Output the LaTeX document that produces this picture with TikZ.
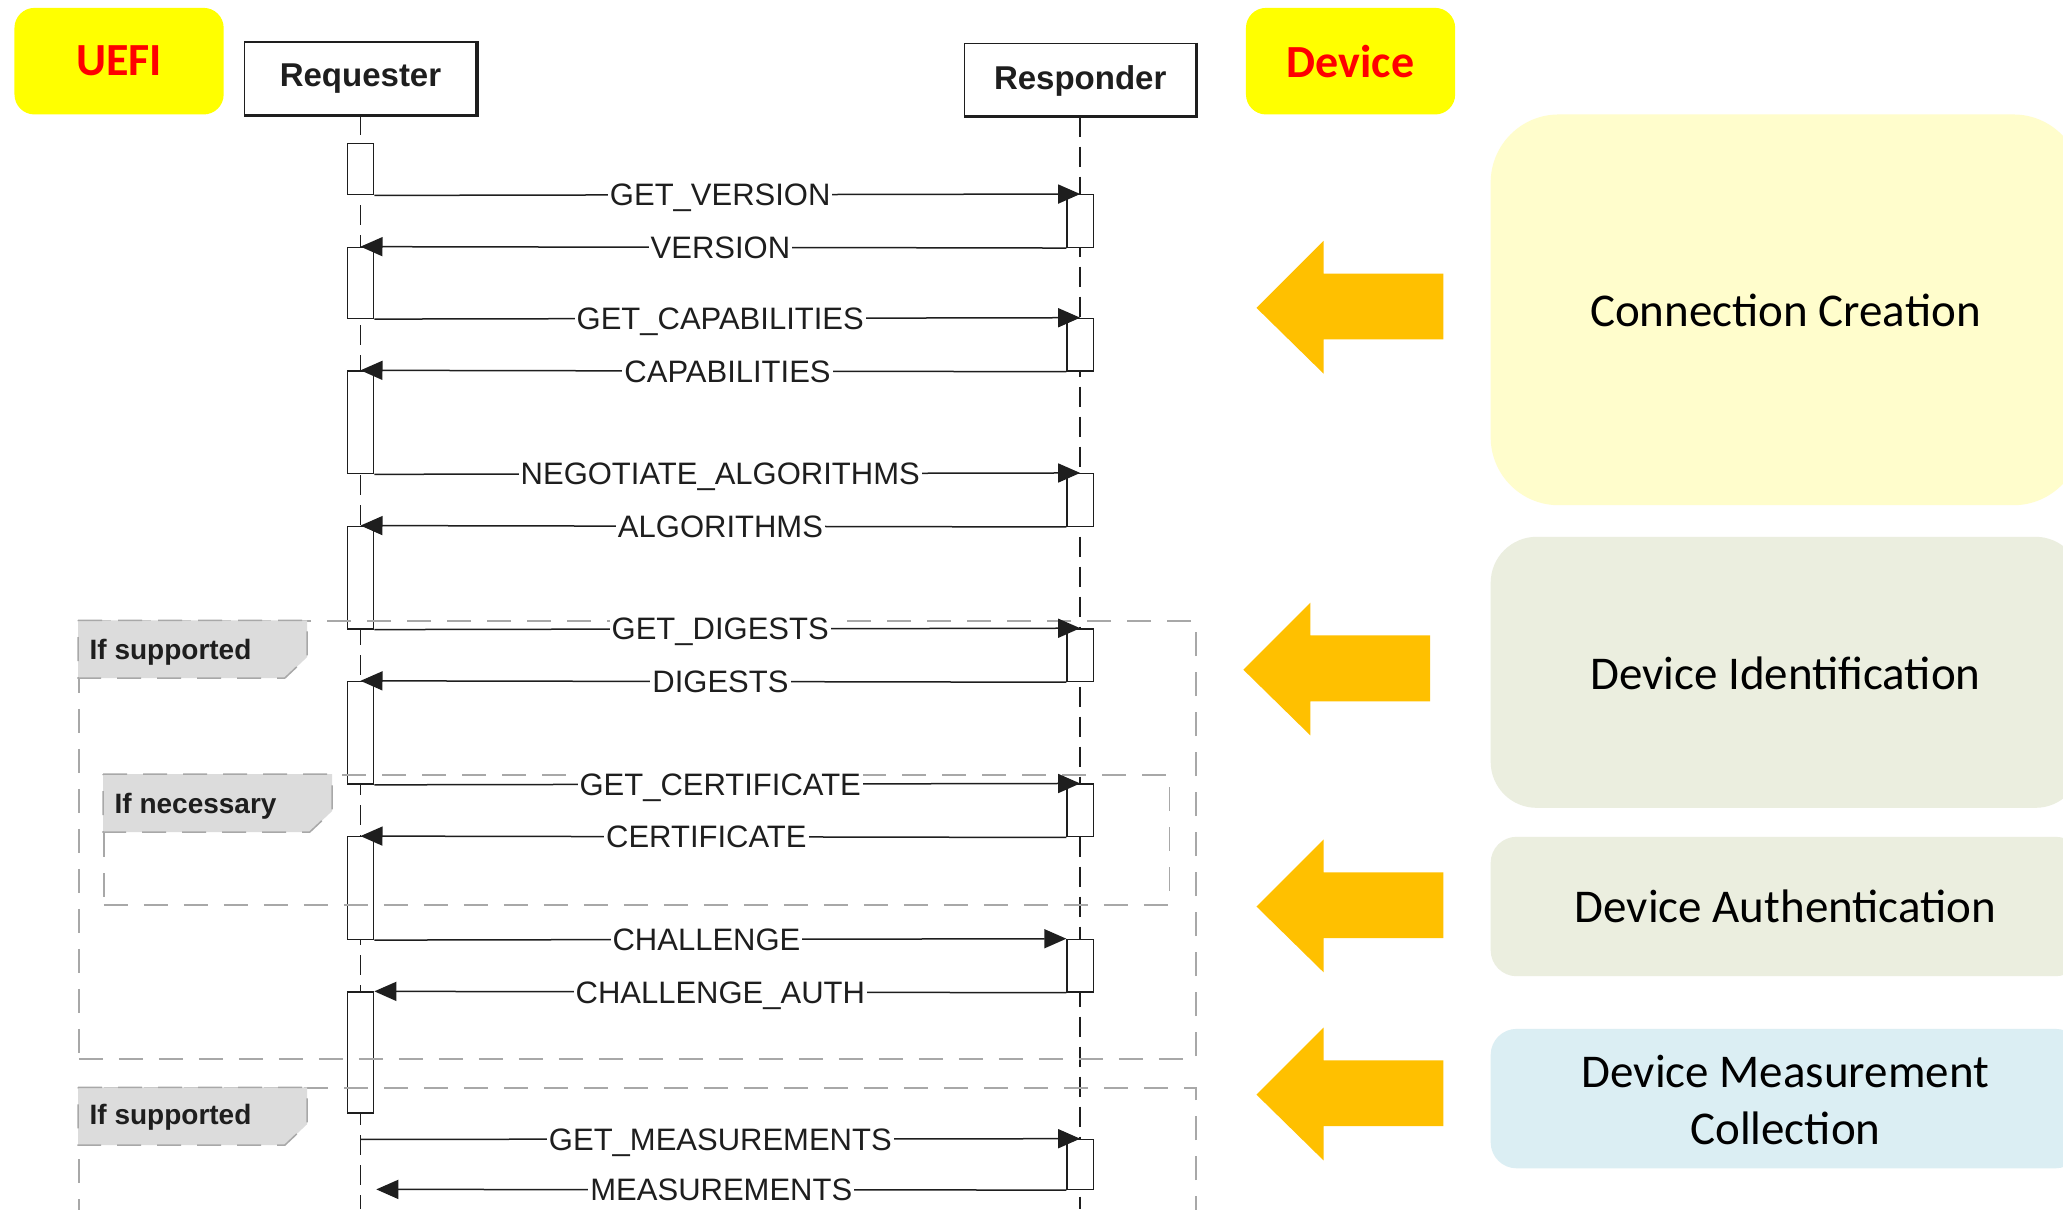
\documentclass[tikz,border=0pt]{standalone}
\usepackage{fontspec}
\setmainfont{Liberation Sans}
\newfontfamily\calibfont{Carlito}
\usetikzlibrary{arrows.meta,fit}

\definecolor{tagyellow}{HTML}{FFFF00}
\definecolor{tagred}{HTML}{FF0000}
\definecolor{phaseorange}{HTML}{FFC000}
\definecolor{ccfill}{HTML}{FFFDCC}
\definecolor{idfill}{HTML}{EBEEDF}
\definecolor{msfill}{HTML}{DBEEF3}
\definecolor{framegray}{HTML}{A8A8A8}
\definecolor{tabgray}{HTML}{DCDCDC}
\definecolor{ink}{HTML}{1E1E1E}

% block arrow pointing left: tip x, tip y, shaft length
\newcommand\phasearrow[3]{%
  \fill[phaseorange] (#1,#2) -- ++(51,-51) -- ++(0,25) -- ++(#3,0) -- ++(0,50)
    -- ++(-#3,0) -- ++(0,26) -- cycle;}

\begin{document}
\begin{tikzpicture}[x=1.3157pt,y=-1.3157pt,
  tag/.style={fill=tagyellow,rounded corners=20pt,inner sep=0pt},
  tagtext/.style={inner sep=0pt,text=tagred,
    font=\calibfont\bfseries\fontsize{46}{50}\selectfont},
  role/.style={draw=ink,fill=white,line width=1.5pt,inner sep=0pt},
  roletext/.style={inner sep=0pt,anchor=base,text=ink,
    font=\bfseries\fontsize{33}{36}\selectfont},
  shadowline/.style={draw=ink,line width=3.2pt},
  lifeline/.style={draw=ink,line width=1.9pt,dash pattern=on 20pt off 10pt},
  act/.style={draw=ink,fill=white,line width=1.4pt,inner sep=0pt},
  frame/.style={draw=framegray,line width=1.5pt,dash pattern=on 24pt off 16pt,inner sep=0pt},
  tab/.style={fill=tabgray,draw=framegray,line width=1.5pt,dash pattern=on 24pt off 16pt},
  tabtext/.style={inner sep=0pt,anchor=base west,text=ink,
    font=\bfseries\fontsize{28}{30}\selectfont},
  msg/.style={draw=ink,line width=1.5pt,-{Triangle[length=22pt,width=19pt]}},
  lbl/.style={fill=white,inner xsep=2pt,inner ysep=0pt,text height=23pt,text depth=1pt,
    text=ink,font=\fontsize{31}{34}\selectfont},
  phasebox/.style={inner sep=0pt},
  phase/.style={inner sep=0pt,align=center,text=black,
    font=\calibfont\fontsize{47}{57}\selectfont},
]
\fill[white] (0,0) rectangle (1568,919);
\useasboundingbox (0,0) rectangle (1568,919);

% side tags
\node[tag,fit={(11,6)(170,87)}] (uefi) {};
\node[tag,fit={(947,6)(1106,87)}] (device) {};
\node[tagtext] (uefit) at (uefi.center) {UEFI};
\node[tagtext] (devicet) at (device.center) {Device};

% participants
\node[role,fit={(186,32)(362,87)}] (req) {};
\node[role,fit={(733,33)(909,88)}] (res) {};
\draw[shadowline] (req.north east) -- (req.south east) -- (req.south west);
\draw[shadowline] (res.north east) -- (res.south east) -- (res.south west);
\node[roletext] (reqt) at (274,66) {Requester};
\node[roletext] (rest) at (821,68) {Responder};

% lifelines
\coordinate (reqfoot) at (274,919);
\coordinate (resfoot) at (821,919);
\draw[lifeline] (req.south) -- (reqfoot);
\draw[lifeline] (res.south) -- (resfoot);

% activation bars, requester side
\node[act,fit={(264,109)(284,148)}] (ra1) {};
\node[act,fit={(264,188)(284,242)}] (ra2) {};
\node[act,fit={(264,282)(284,360)}] (ra3) {};
\node[act,fit={(264,400)(284,478)}] (ra4) {};
\node[act,fit={(264,518)(284,596)}] (ra5) {};
\node[act,fit={(264,636)(284,714)}] (ra6) {};
\node[act,fit={(264,754)(284,846)}] (ra7) {};
% activation bars, responder side
\node[act,fit={(811,148)(831,188)}] (sa1) {};
\node[act,fit={(811,242)(831,282)}] (sa2) {};
\node[act,fit={(811,360)(831,400)}] (sa3) {};
\node[act,fit={(811,478)(831,518)}] (sa4) {};
\node[act,fit={(811,596)(831,636)}] (sa5) {};
\node[act,fit={(811,714)(831,754)}] (sa6) {};
\node[act,fit={(811,866)(831,904)}] (sa7) {};

% optional fragments
\node[frame,fit={(60,472)(909,805)}] (opt1) {};
\node[frame,fit={(79,589)(889,688)}] (opt2) {};
\node[frame,fit={(60,827)(909,960)}] (opt3) {};
\filldraw[tab] (opt1.north west) -- ++(174,0) -- ++(0,28) -- ++(-17,16) -- ++(-157,0) -- cycle;
\filldraw[tab] (opt2.north west) -- ++(174,0) -- ++(0,28) -- ++(-17,16) -- ++(-157,0) -- cycle;
\filldraw[tab] (opt3.north west) -- ++(174,0) -- ++(0,28) -- ++(-17,16) -- ++(-157,0) -- cycle;
\node[tabtext] (opt1t) at (68,501) {If supported};
\node[tabtext] (opt2t) at (87,618) {If necessary};
\node[tabtext] (opt3t) at (68,855) {If supported};

% messages
\coordinate (gmstart) at (274,866);
\coordinate (mend) at (286,904);
\draw[msg] (ra1.south east) -- (sa1.north) node[lbl,pos=.49] {GET\_VERSION};
\draw[msg] (sa1.south west) -- (ra2.north) node[lbl,pos=.49] {VERSION};
\draw[msg] (ra2.south east) -- (sa2.north) node[lbl,pos=.49] {GET\_CAPABILITIES};
\draw[msg] (sa2.south west) -- (ra3.north) node[lbl,pos=.48] {CAPABILITIES};
\draw[msg] (ra3.south east) -- (sa3.north) node[lbl,pos=.49] {NEGOTIATE\_ALGORITHMS};
\draw[msg] (sa3.south west) -- (ra4.north) node[lbl,pos=.49] {ALGORITHMS};
\draw[msg] (ra4.south east) -- (sa4.north) node[lbl,pos=.49] {GET\_DIGESTS};
\draw[msg] (sa4.south west) -- (ra5.north) node[lbl,pos=.49] {DIGESTS};
\draw[msg] (ra5.south east) -- (sa5.north) node[lbl,pos=.49] {GET\_CERTIFICATE};
\draw[msg] (sa5.south west) -- (ra6.north) node[lbl,pos=.51] {CERTIFICATE};
\draw[msg] (ra6.south east) -- (sa6.north west) node[lbl,pos=.48] {CHALLENGE};
\draw[msg] (sa6.south west) -- (ra7.north east) node[lbl,pos=.50] {CHALLENGE\_AUTH};
\draw[msg] (gmstart) -- (sa7.north) node[lbl,pos=.50] {GET\_MEASUREMENTS};
\draw[msg] (sa7.south west) -- (mend) node[lbl,pos=.50] {MEASUREMENTS};

% phase pointers
\phasearrow{955}{234}{91}
\phasearrow{945}{509}{91}
\phasearrow{955}{689}{91}
\phasearrow{955}{832}{91}

% phase boxes
\node[phasebox,fill=ccfill,rounded corners=68pt,fit={(1133,87)(1582,384)}] (cc) {};
\node[phasebox,fill=idfill,rounded corners=46pt,fit={(1133,408)(1582,614)}] (di) {};
\node[phasebox,fill=idfill,rounded corners=26pt,fit={(1133,636)(1582,742)}] (da) {};
\node[phasebox,fill=msfill,rounded corners=26pt,fit={(1133,782)(1582,888)}] (dm) {};
\node[phase] (cct) at (1357,236) {Connection Creation};
\node[phase] (dit) at (1357,512) {Device Identification};
\node[phase] (dat) at (1357,689) {Device Authentication};
\node[phase] (dmt) at (1357,836) {Device Measurement\\Collection};
\end{tikzpicture}
\end{document}
